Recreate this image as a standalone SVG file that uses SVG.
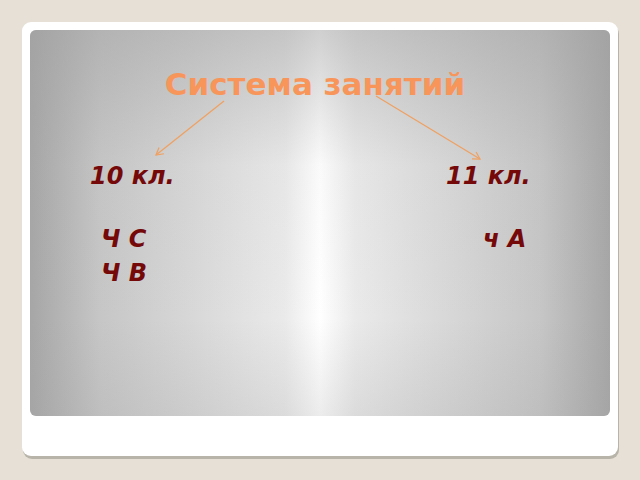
<svg xmlns="http://www.w3.org/2000/svg" width="640" height="480" viewBox="0 0 640 480">
<style>
.t{font-family:"DejaVu Sans",Verdana,sans-serif;font-weight:bold}
.lbl{font-family:"DejaVu Sans",Verdana,sans-serif;font-weight:bold;font-style:italic;font-size:24px;fill:#750808}
.arr{stroke:#f0a060;stroke-width:1.2;fill:none}
</style>
<defs>
<linearGradient id="hg" x1="30" y1="0" x2="610" y2="0" gradientUnits="userSpaceOnUse">
<stop offset="0" stop-color="#a6a6a6"/>
<stop offset="0.12" stop-color="#c6c6c6"/>
<stop offset="0.3" stop-color="#dadada"/>
<stop offset="0.44" stop-color="#eaeaea"/>
<stop offset="0.5" stop-color="#ffffff"/>
<stop offset="0.56" stop-color="#eaeaea"/>
<stop offset="0.7" stop-color="#dadada"/>
<stop offset="0.88" stop-color="#c6c6c6"/>
<stop offset="1" stop-color="#a6a6a6"/>
</linearGradient>
<linearGradient id="vg" x1="0" y1="30" x2="0" y2="416" gradientUnits="userSpaceOnUse">
<stop offset="0" stop-color="#a0a0a0" stop-opacity="0.5"/>
<stop offset="0.35" stop-color="#a0a0a0" stop-opacity="0.05"/>
<stop offset="0.75" stop-color="#a0a0a0" stop-opacity="0"/>
<stop offset="1" stop-color="#a0a0a0" stop-opacity="0.2"/>
</linearGradient>
<marker id="ah" markerWidth="10" markerHeight="10" refX="8" refY="5" orient="auto" markerUnits="userSpaceOnUse">
<path d="M1,1 L8,5 L1,9" stroke="#f0a060" stroke-width="1.2" fill="none"/>
</marker>
</defs>
<rect width="640" height="480" fill="#e6e0d6"/>
<rect x="23" y="25" width="596" height="434" rx="9" fill="#b8b4aa"/>
<rect x="22" y="22" width="596" height="434" rx="9" fill="#ffffff"/>
<rect x="30" y="30" width="580" height="386" rx="6" fill="url(#hg)"/>
<rect x="30" y="30" width="580" height="386" rx="6" fill="url(#vg)"/>
<g id="title"><text class="t" x="315" y="95" font-size="31" fill="#f7955a" text-anchor="middle">Система занятий</text></g>
<g id="connectors">
<line class="arr" x1="224" y1="101" x2="156" y2="155" marker-end="url(#ah)"/>
<line class="arr" x1="376" y1="96" x2="480" y2="159" marker-end="url(#ah)"/>
</g>
<g id="n10"><text class="lbl" x="90" y="184">10 кл.</text></g>
<g id="n11"><text class="lbl" x="446" y="184">11 кл.</text></g>
<g id="ncs"><text class="lbl" x="101" y="247">Ч С</text></g>
<g id="ncv"><text class="lbl" x="101" y="281">Ч В</text></g>
<g id="nca"><text class="lbl" x="483" y="247">ч А</text></g>
</svg>
